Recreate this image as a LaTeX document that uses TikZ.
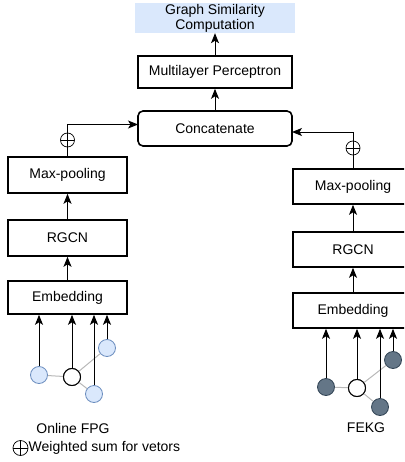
\documentclass[tikz,border=0pt]{standalone}
\usepackage{fontspec}
\setmainfont{Liberation Sans}
\usetikzlibrary{arrows.meta}
\definecolor{simblue}{HTML}{DAE8FC}
\definecolor{nodeblue}{HTML}{DAE8FC}
\definecolor{nodeblueline}{HTML}{6C8EBF}
\definecolor{kgfill}{HTML}{647687}
\definecolor{kgline}{HTML}{314354}
\definecolor{edgegray}{HTML}{B8B8B8}
\begin{document}
\begin{tikzpicture}[x=1pt,y=-1pt,
    font=\fontsize{14}{16}\selectfont,
    layerbox/.style={draw, line width=1.6pt, inner sep=0pt},
    sumnode/.style={circle, draw, line width=0.7pt, minimum size=14pt, inner sep=0pt,
      path picture={\draw[line width=0.7pt] (path picture bounding box.north) -- (path picture bounding box.south)
        (path picture bounding box.west) -- (path picture bounding box.east);}},
    fpgnode/.style={circle, draw=nodeblueline, fill=nodeblue, line width=0.8pt, minimum size=17pt, inner sep=0pt},
    kgnode/.style={circle, draw=kgline, fill=kgfill, line width=0.8pt, minimum size=17pt, inner sep=0pt},
    centernode/.style={circle, draw, fill=white, line width=1pt, minimum size=17pt, inner sep=0pt},
    edgeline/.style={draw=edgegray, line width=1pt},
    feed/.style={line width=0.9pt, -{Stealth[length=10pt,width=8pt,inset=2.5pt]}}]

      \useasboundingbox (0,0) rectangle (404,462);
      \clip (0,0) rectangle (404,462);

      % top of the network
      \node[fill=simblue, minimum width=160pt, minimum height=30pt, inner sep=0pt, align=center,
        font=\fontsize{14}{15}\selectfont] (gsc) at (215,18) {Graph Similarity\\Computation};
      \node[layerbox, minimum width=154pt, minimum height=32pt] (mlp) at (215,72) {Multilayer Perceptron};
      \node[layerbox, rounded corners=5pt, minimum width=154pt, minimum height=35pt] (concat) at (215,128.5) {Concatenate};

      % left branch (online FPG)
      \node[layerbox, minimum width=119pt, minimum height=36pt] (lmax) at (67.5,175) {Max-pooling};
      \node[layerbox, minimum width=119pt, minimum height=36pt] (lrgcn) at (67.5,238) {RGCN};
      \node[layerbox, minimum width=119pt, minimum height=33pt] (lemb) at (67.5,297.5) {Embedding};
      \node[sumnode] (lsum) at (67.5,140) {};

      % right branch (FEKG)
      \node[layerbox, minimum width=120pt, minimum height=35pt] (rmax) at (353,186.5) {Max-pooling};
      \node[layerbox, minimum width=120pt, minimum height=35pt] (rrgcn) at (353,249.5) {RGCN};
      \node[layerbox, minimum width=120pt, minimum height=35pt] (remb) at (353,310.5) {Embedding};
      \node[sumnode] (rsum) at (353,148) {};

      \coordinate (lin) at (138,124.5);
      \coordinate (rin) at (292,132);

      \draw[feed] (mlp) -- (gsc);
      \draw[feed] (concat) -- (mlp);
      \draw[feed] (lemb) -- (lrgcn);
      \draw[feed] (lrgcn) -- (lmax);
      \draw[feed] (remb) -- (rrgcn);
      \draw[feed] (rrgcn) -- (rmax);
      \draw[line width=0.9pt] (lmax) -- (lsum);
      \draw[line width=0.9pt] (rmax) -- (rsum);
      \draw[feed] (lsum.north) |- (lin);
      \draw[feed] (rsum.north) |- (rin);

      % online FPG graph
      \node[fpgnode] (la) at (39,375) {};
      \node[fpgnode] (lb) at (107,348) {};
      \node[fpgnode] (ld) at (94,394) {};
      \node[centernode] (lc) at (72,377) {};
      \foreach \n in {la,lb,ld} {
        \draw[edgeline] (lc) -- (\n);
      }
      \node[centernode] at (lc) {};
      \foreach \n in {la,lc,ld,lb} {
        \draw[feed] (\n.north) -- (\n.north |- lemb.south);
      }

      % FEKG graph
      \node[kgnode] (ra) at (326,387) {};
      \node[kgnode] (rb) at (393,360) {};
      \node[kgnode] (rd) at (380,407) {};
      \node[centernode] (rc) at (357,388) {};
      \foreach \n in {ra,rb,rd} {
        \draw[edgeline] (rc) -- (\n);
      }
      \node[centernode] at (rc) {};
      \foreach \n in {ra,rc,rd,rb} {
        \draw[feed] (\n.north) -- (\n.north |- remb.south);
      }

      % labels
      \node (fpglabel) at (73,428) {Online FPG};
      \node (kglabel) at (366,428) {FEKG};
      \node[sumnode, minimum size=15pt] (legsum) at (20.5,448) {};
      \node[anchor=west, inner sep=0pt] (legtext) at (28.5,448) {Weighted sum for vetors};

    \end{tikzpicture}
\end{document}
